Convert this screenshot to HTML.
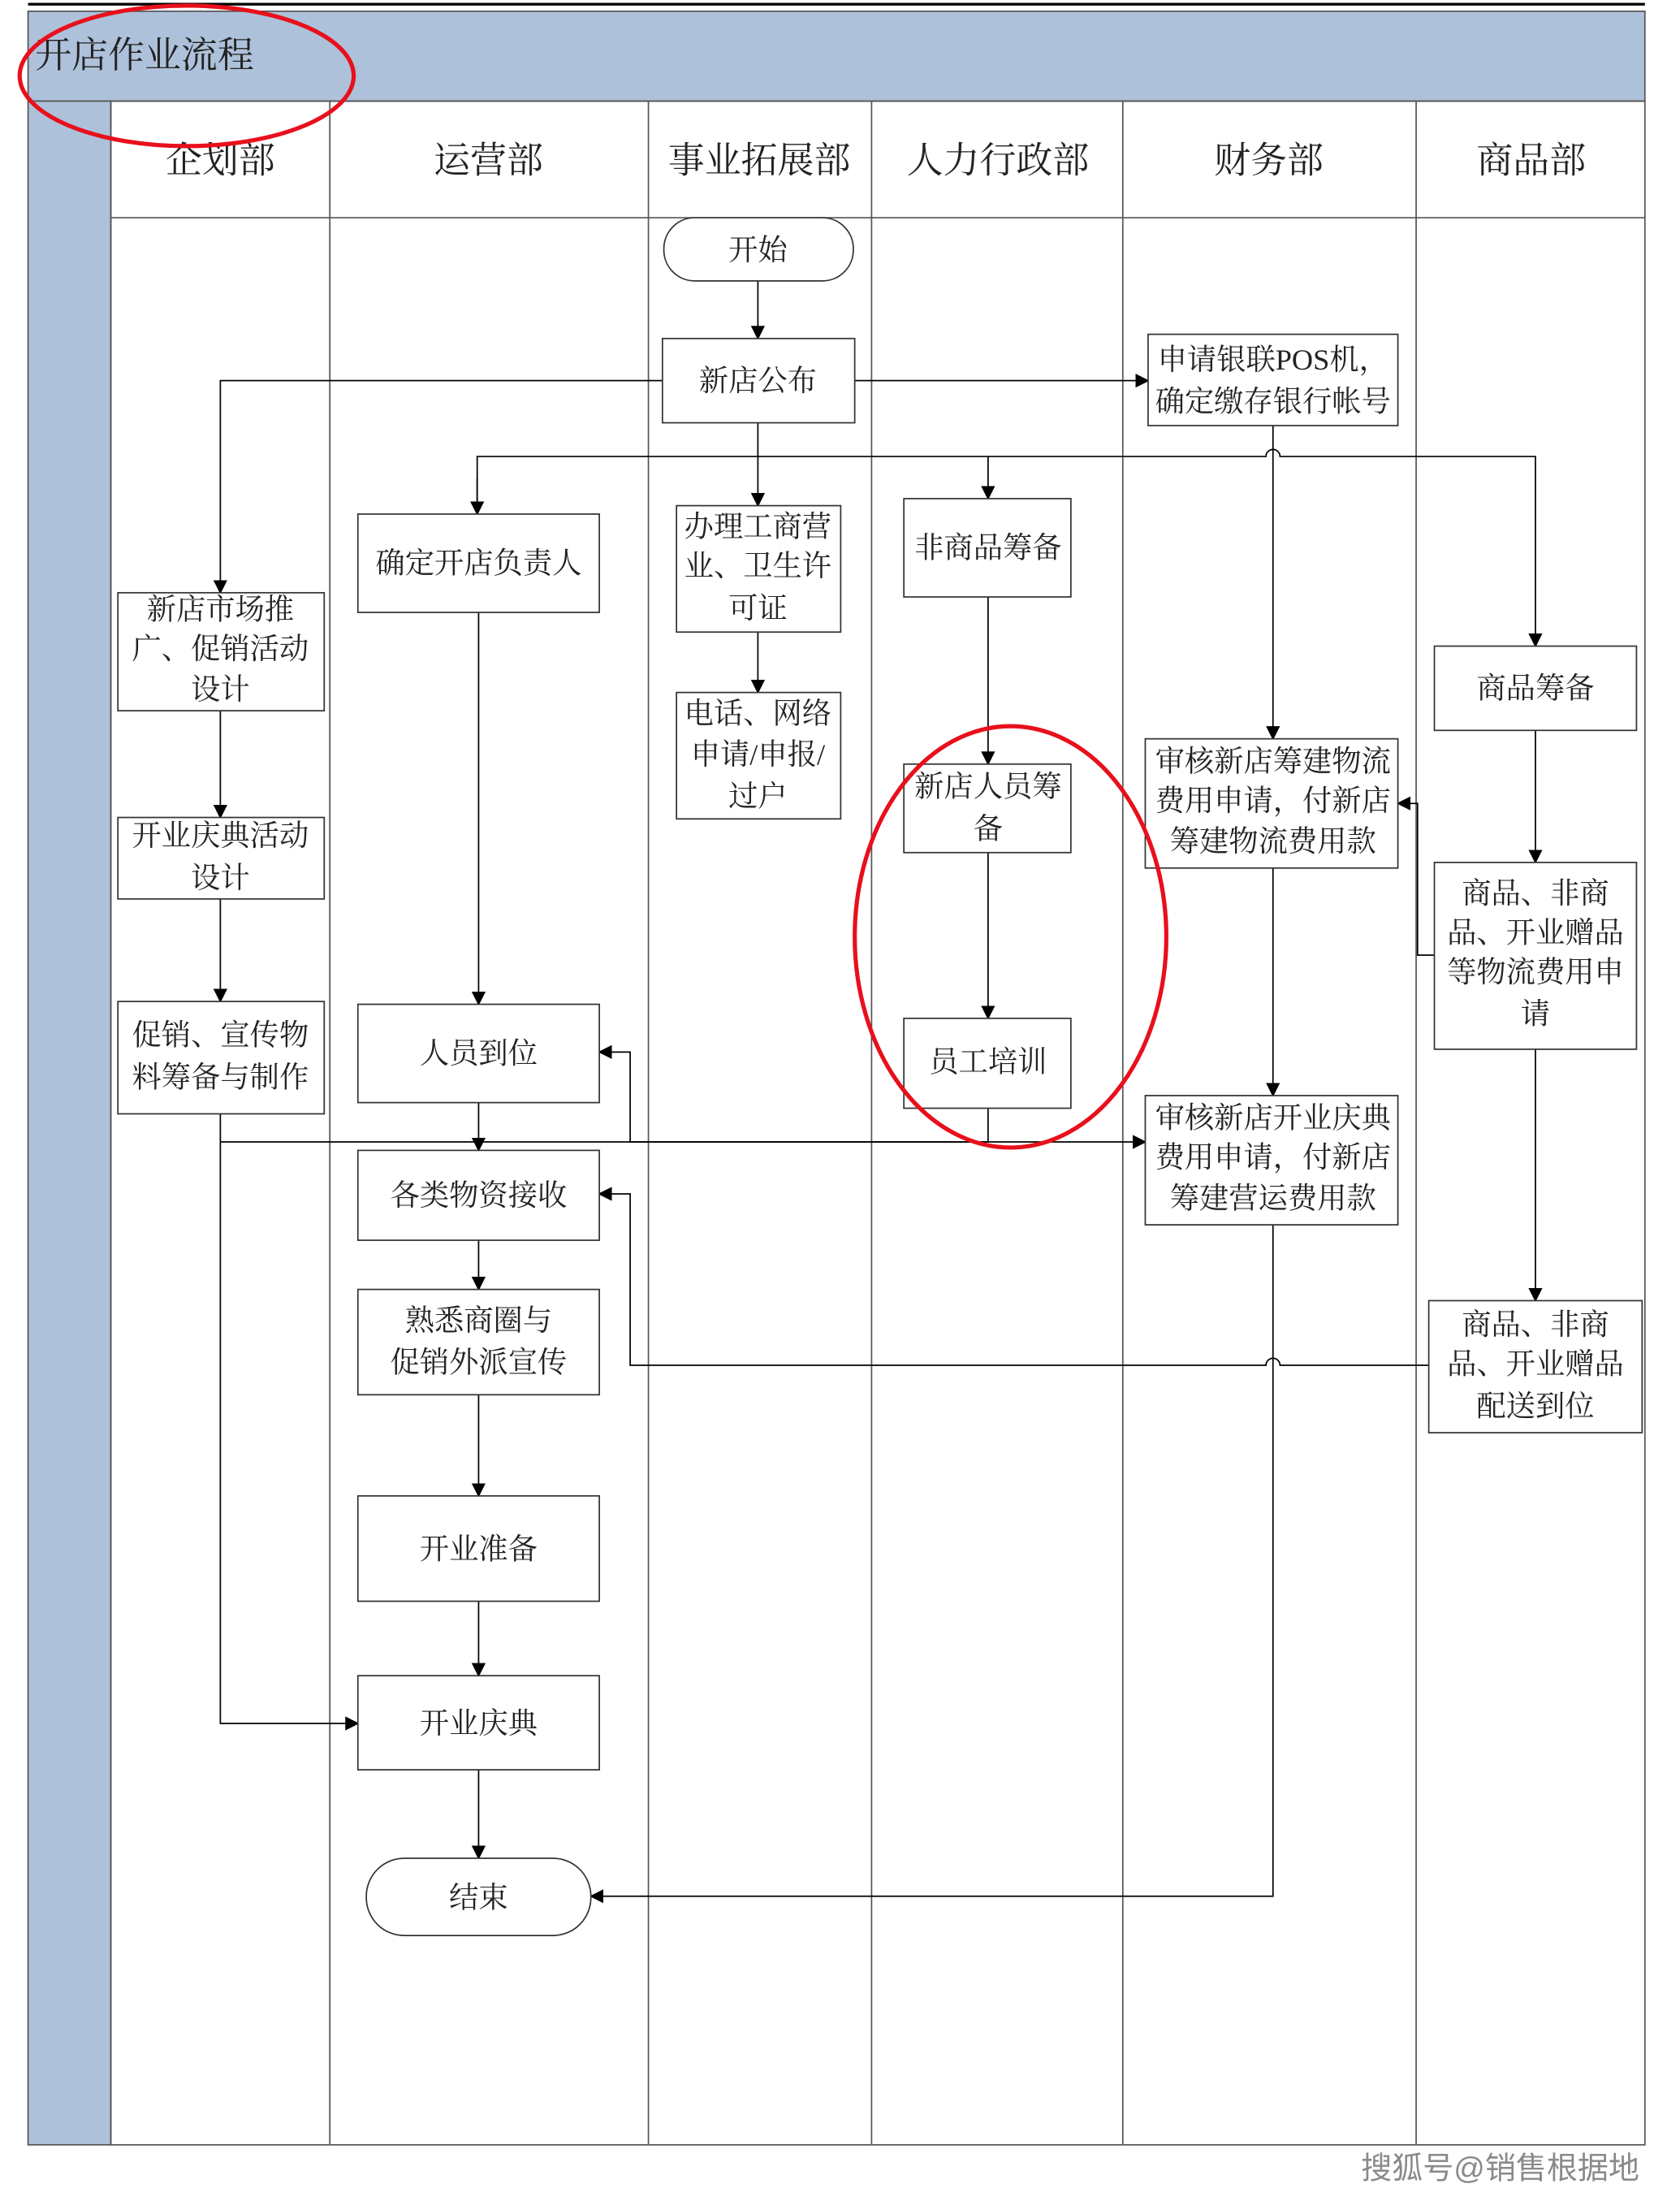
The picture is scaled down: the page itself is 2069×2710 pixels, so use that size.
<!DOCTYPE html>
<html><head><meta charset="utf-8"><style>
html,body{margin:0;padding:0;background:#fff;}
svg{display:block;}
text{font-family:"Liberation Serif","Noto Serif CJK SC","Noto Sans CJK SC",serif;fill:#222;}
</style></head><body>
<svg width="2069" height="2710" viewBox="0 0 1197 1567" preserveAspectRatio="none" xmlns="http://www.w3.org/2000/svg">
<defs><marker id="a" markerWidth="10" markerHeight="10" refX="9" refY="5" orient="auto" markerUnits="userSpaceOnUse"><path d="M0,0 L10,5 L0,10 z" fill="#000"/></marker></defs>
<rect width="1200" height="1570" fill="#fff"/>
<line x1="20" y1="3" x2="1172" y2="3" stroke="#000" stroke-width="2"/>
<rect x="20" y="8" width="1152" height="64" fill="#aec1da" stroke="#555" stroke-width="1"/>
<rect x="20" y="72" width="59" height="1455" fill="#aec1da" stroke="#555" stroke-width="1"/>
<rect x="79" y="72" width="1093" height="1455" fill="none" stroke="#555" stroke-width="1"/>
<line x1="79" y1="155" x2="1172" y2="155" stroke="#555"/>
<g stroke="#555" stroke-width="1">
<line x1="235" y1="72" x2="235" y2="1527"/><line x1="462" y1="72" x2="462" y2="1527"/>
<line x1="621" y1="72" x2="621" y2="1527"/><line x1="800" y1="72" x2="800" y2="1527"/>
<line x1="1009" y1="72" x2="1009" y2="1527"/>
</g>
<text x="25" y="48" font-size="26">开店作业流程</text>
<g font-size="26" text-anchor="middle">
<text x="157" y="123">企划部</text><text x="348" y="123">运营部</text><text x="541" y="123">事业拓展部</text>
<text x="711" y="123">人力行政部</text><text x="904" y="123">财务部</text><text x="1091" y="123">商品部</text>
</g>
<g stroke="#000" stroke-width="1" fill="none">
<line x1="540" y1="200" x2="540" y2="241" marker-end="url(#a)"/>
<polyline points="472,271 157,271 157,422" marker-end="url(#a)"/>
<line x1="609" y1="271" x2="818" y2="271" marker-end="url(#a)"/>
<line x1="540" y1="301" x2="540" y2="360" marker-end="url(#a)"/>
<path d="M340,366 L340,325 L902,325 A5,5 0 0 1 912,325 L1094,325 L1094,460" marker-end="url(#a)"/>
<line x1="340" y1="340" x2="340" y2="366" marker-end="url(#a)"/>
<line x1="704" y1="325" x2="704" y2="355" marker-end="url(#a)"/>
<line x1="540" y1="450" x2="540" y2="493" marker-end="url(#a)"/>
<line x1="907" y1="303" x2="907" y2="526" marker-end="url(#a)"/>
<line x1="157" y1="506" x2="157" y2="582" marker-end="url(#a)"/>
<line x1="157" y1="640" x2="157" y2="713" marker-end="url(#a)"/>
<line x1="341" y1="436" x2="341" y2="715" marker-end="url(#a)"/>
<line x1="704" y1="425" x2="704" y2="544" marker-end="url(#a)"/>
<line x1="704" y1="607" x2="704" y2="725" marker-end="url(#a)"/>
<polyline points="704,789 704,813 449,813 449,749 427,749" marker-end="url(#a)"/>
<polyline points="157,793 157,1227 255,1227" marker-end="url(#a)"/>
<line x1="157" y1="813" x2="816" y2="813" marker-end="url(#a)"/>
<line x1="341" y1="785" x2="341" y2="819" marker-end="url(#a)"/>
<line x1="341" y1="883" x2="341" y2="918" marker-end="url(#a)"/>
<line x1="341" y1="993" x2="341" y2="1065" marker-end="url(#a)"/>
<line x1="341" y1="1140" x2="341" y2="1193" marker-end="url(#a)"/>
<line x1="341" y1="1260" x2="341" y2="1323" marker-end="url(#a)"/>
<line x1="1094" y1="520" x2="1094" y2="614" marker-end="url(#a)"/>
<line x1="1094" y1="747" x2="1094" y2="926" marker-end="url(#a)"/>
<polyline points="1022,680 1010,680 1010,572 996,572" marker-end="url(#a)"/>
<path d="M1018,972 L912,972 A5,5 0 0 0 902,972 L449,972 L449,850 L427,850" marker-end="url(#a)"/>
<line x1="907" y1="618" x2="907" y2="780" marker-end="url(#a)"/>
<polyline points="907,872 907,1350 421,1350" marker-end="url(#a)"/>
</g>
<g fill="#fff" stroke="#333" stroke-width="1">
<rect x="473" y="155" width="135" height="45" rx="22"/>
<rect x="472" y="241" width="137" height="60"/>
<rect x="818" y="238" width="178" height="65"/>
<rect x="255" y="366" width="172" height="70"/>
<rect x="482" y="360" width="117" height="90"/>
<rect x="644" y="355" width="119" height="70"/>
<rect x="84" y="422" width="147" height="84"/>
<rect x="482" y="493" width="117" height="90"/>
<rect x="1022" y="460" width="144" height="60"/>
<rect x="816" y="526" width="180" height="92"/>
<rect x="644" y="544" width="119" height="63"/>
<rect x="84" y="582" width="147" height="58"/>
<rect x="1022" y="614" width="144" height="133"/>
<rect x="84" y="713" width="147" height="80"/>
<rect x="255" y="715" width="172" height="70"/>
<rect x="644" y="725" width="119" height="64"/>
<rect x="816" y="780" width="180" height="92"/>
<rect x="255" y="819" width="172" height="64"/>
<rect x="1018" y="926" width="152" height="94"/>
<rect x="255" y="918" width="172" height="75"/>
<rect x="255" y="1065" width="172" height="75"/>
<rect x="255" y="1193" width="172" height="67"/>
<rect x="261" y="1323" width="160" height="55" rx="27"/>
</g>
<g font-size="21" text-anchor="middle">
<text x="540" y="185">开始</text>
<text x="540" y="278">新店公布</text>
<text x="907" y="263">申请银联POS机，</text><text x="907" y="293">确定缴存银行帐号</text>
<text x="341" y="408">确定开店负责人</text>
<text x="540" y="382">办理工商营</text><text x="540" y="410">业、卫生许</text><text x="540" y="440">可证</text>
<text x="704" y="397">非商品筹备</text>
<text x="157" y="441">新店市场推</text><text x="157" y="469">广、促销活动</text><text x="157" y="498">设计</text>
<text x="540" y="515">电话、网络</text><text x="540" y="544">申请/申报/</text><text x="540" y="574">过户</text>
<text x="1094" y="497">商品筹备</text>
<text x="907" y="549">审核新店筹建物流</text><text x="907" y="577">费用申请，付新店</text><text x="907" y="606">筹建物流费用款</text>
<text x="704" y="567">新店人员筹</text><text x="704" y="597">备</text>
<text x="157" y="602">开业庆典活动</text><text x="157" y="632">设计</text>
<text x="1094" y="643">商品、非商</text><text x="1094" y="671">品、开业赠品</text><text x="1094" y="699">等物流费用申</text><text x="1094" y="729">请</text>
<text x="157" y="744">促销、宣传物</text><text x="157" y="774">料筹备与制作</text>
<text x="341" y="757">人员到位</text>
<text x="704" y="763">员工培训</text>
<text x="907" y="803">审核新店开业庆典</text><text x="907" y="831">费用申请，付新店</text><text x="907" y="860">筹建营运费用款</text>
<text x="341" y="858">各类物资接收</text>
<text x="1094" y="950">商品、非商</text><text x="1094" y="978">品、开业赠品</text><text x="1094" y="1008">配送到位</text>
<text x="341" y="947">熟悉商圈与</text><text x="341" y="977">促销外派宣传</text>
<text x="341" y="1110">开业准备</text>
<text x="341" y="1234">开业庆典</text>
<text x="341" y="1358">结束</text>
</g>
<g fill="none" stroke="#e8101c" stroke-width="3">
<ellipse cx="133" cy="54" rx="119" ry="50"/>
<ellipse cx="720" cy="667" rx="111" ry="150"/>
</g>
<text x="1168" y="1551" font-size="22" text-anchor="end" style="fill:#8a8a8a;font-family:'Liberation Sans','Noto Sans CJK SC',sans-serif">搜狐号@销售根据地</text>
</svg>
</body></html>
